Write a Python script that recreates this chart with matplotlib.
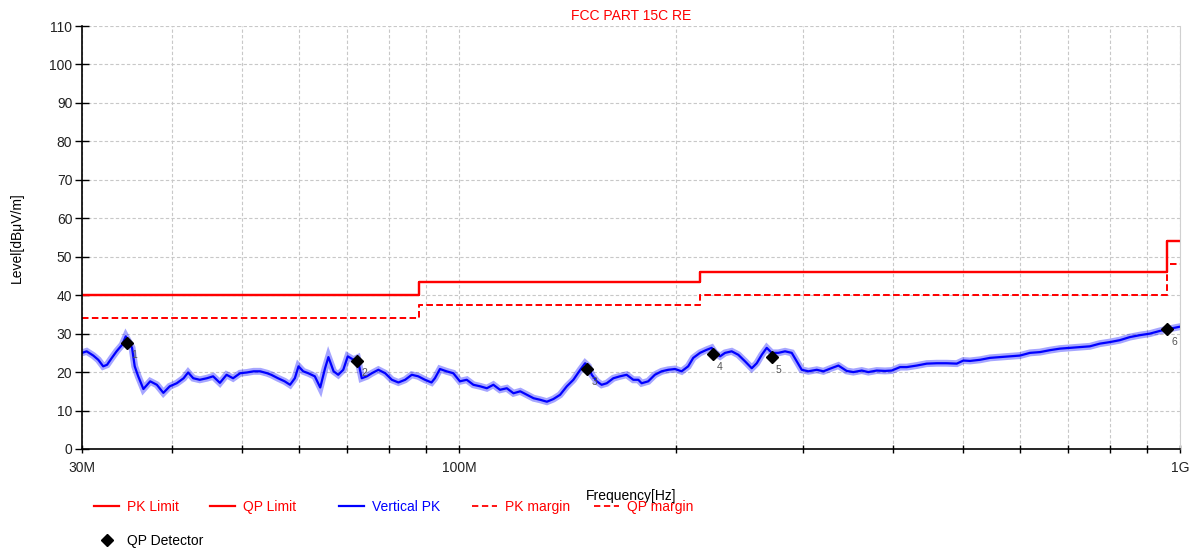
import matplotlib.pyplot as plt
from matplotlib.ticker import FixedLocator, NullFormatter

plt.rcParams['font.family'] = ['Liberation Sans', 'DejaVu Sans']

# limit lines (MHz edges, dBuV/m)
limit_edges = [30, 88, 216, 960, 1000]
pk_limit = [40, 43.5, 46, 54, 54]
qp_limit = [40, 43.5, 46, 54, 54]
pk_margin = [34, 37.5, 40, 48, 48]
qp_margin = [34, 37.5, 40, 48, 48]

# vertical peak scan
trace_mhz = [
    30.0, 30.45, 31.1, 31.6, 32.1, 32.5, 33.0, 33.5, 34.1, 34.5, 34.8, 35.2,
    35.5, 35.9, 36.5, 37.3, 38.1, 38.9, 39.7, 40.6, 41.5, 42.1, 42.8, 43.7,
    44.7, 45.6, 46.6, 47.6, 48.6, 49.7, 50.8, 51.9, 53.0, 54.2, 54.9, 56.1,
    57.3, 58.3, 59.2, 59.9, 60.8, 61.8, 63.1, 64.2, 65.2, 65.9, 67.0, 68.0,
    69.1, 70.1, 71.4, 72.3, 73.3, 74.5, 75.7, 77.3, 79.0, 80.7, 82.4, 84.2,
    86.0, 87.8, 89.7, 91.6, 92.6, 94.1, 96.1, 98.2, 100.3, 102.5, 104.7,
    107.0, 109.3, 111.6, 114.0, 116.5, 119.0, 121.6, 124.2, 126.9, 129.6,
    132.4, 135.2, 138.1, 141.1, 144.1, 147.3, 149.6, 151.2, 152.8, 155.3,
    157.7, 160.3, 163.7, 167.2, 170.8, 174.5, 177.3, 179.2, 183.0, 186.9,
    191.0, 195.1, 199.3, 203.6, 207.9, 211.3, 215.9, 220.6, 224.1, 226.5,
    230.2, 233.9, 238.9, 244.0, 249.3, 254.7, 258.8, 263.0, 267.2, 271.5,
    277.3, 283.3, 289.4, 294.1, 298.8, 305.2, 313.5, 320.2, 327.2, 335.9,
    344.9, 352.3, 361.9, 369.6, 379.6, 389.9, 398.3, 409.0, 417.9, 431.4,
    445.4, 459.8, 474.7, 490.2, 500.6, 511.5, 528.1, 545.3, 563.0, 581.1,
    599.9, 619.3, 639.4, 660.1, 681.5, 703.5, 726.3, 749.9, 774.2, 799.3,
    825.2, 851.9, 879.6, 908.1, 937.5, 957.8, 988.9, 1000.0,
]
trace_dbuv = [
    25.0, 25.4, 24.3, 23.2, 21.5, 21.9, 23.7, 25.4, 27.1, 29.3, 28.0, 26.3,
    21.5, 18.9, 15.6, 17.6, 16.7, 14.6, 16.3, 17.1, 18.4, 19.9, 18.4, 18.0,
    18.4, 18.9, 17.2, 19.3, 18.4, 19.7, 19.9, 20.2, 20.2, 19.7, 19.3, 18.4,
    17.6, 16.7, 18.4, 21.5, 20.2, 19.7, 18.9, 16.0, 21.0, 23.9, 20.2, 19.3,
    20.6, 24.1, 23.2, 23.7, 18.4, 18.9, 19.7, 20.6, 19.7, 18.0, 17.3, 18.0,
    19.3, 18.9, 18.0, 17.3, 18.4, 20.8, 20.2, 19.7, 17.6, 18.0, 16.7,
    16.3, 15.8, 16.7, 15.4, 15.8, 14.5, 15.0, 14.1, 13.2, 12.8,
    12.3, 13.0, 14.1, 16.3, 18.0, 20.6, 22.3, 21.5, 19.3, 17.6,
    16.7, 17.1, 18.4, 18.9, 19.3, 18.0, 18.0, 17.1, 17.6, 19.3,
    20.2, 20.6, 20.8, 20.2, 21.5, 23.7, 25.0, 25.8, 26.3, 25.0,
    24.1, 25.0, 25.4, 24.5, 22.8, 21.0, 22.3, 24.5, 26.3, 25.0,
    25.0, 25.4, 25.0, 22.8, 20.6, 20.2, 20.6, 20.2, 20.9, 21.7,
    20.3, 20.0, 20.4, 20.0, 20.4, 20.3, 20.4, 21.3, 21.3, 21.7,
    22.2, 22.3, 22.3, 22.2, 23.0, 22.9, 23.2, 23.7, 23.9, 24.1,
    24.3, 25.0, 25.2, 25.7, 26.1, 26.3, 26.5, 26.7, 27.4, 27.8,
    28.3, 29.1, 29.6, 30.0, 30.7, 31.1, 31.6, 31.8,
]

# QP detector points
qp_mhz = [34.6, 72.2, 150.5, 225.0, 271.6, 959.0]
qp_dbuv = [27.6, 22.9, 20.8, 24.7, 23.9, 31.2]
qp_labels = ['1', '2', '3', '4', '5', '6']

fig = plt.figure(figsize=(11.93, 5.49), dpi=100)
ax = fig.add_axes([82 / 1193, 1 - 449 / 549, 1098 / 1193, 423 / 549])

pk_line, = ax.step(limit_edges, pk_limit, where='post', color='#ff0000', lw=1.6, label='PK Limit')
qp_line, = ax.step(limit_edges, qp_limit, where='post', color='#ff0000', lw=1.6, label='QP Limit')
# wide faint pass gives the scan its noisy band look
ax.plot(trace_mhz, trace_dbuv, color='#0000ff', lw=5, alpha=0.35, solid_joinstyle='miter')
vpk_line, = ax.plot(trace_mhz, trace_dbuv, color='#0000ff', lw=1.6, label='Vertical PK')
pkm_line, = ax.step(limit_edges, pk_margin, where='post', color='#ff0000', lw=1.3,
                    dashes=(3.5, 2), label='PK margin')
qpm_line, = ax.step(limit_edges, qp_margin, where='post', color='#ff0000', lw=1.3,
                    dashes=(3.5, 2), label='QP margin')
det_pts, = ax.plot(qp_mhz, qp_dbuv, 'D', color='black', ms=6, ls='none', label='QP Detector')
for f, v, t in zip(qp_mhz, qp_dbuv, qp_labels):
    ax.annotate(t, (f, v), xytext=(3, -9), textcoords='offset points',
                fontsize=7.5, color='#555555', va='center')

ax.set_xscale('log')
ax.set_xlim(30, 1000)
ax.set_ylim(0, 110)
ax.xaxis.set_major_locator(FixedLocator([30, 100, 1000]))
ax.set_xticklabels(['30M', '100M', '1G'])
ax.xaxis.set_minor_locator(FixedLocator([40, 50, 60, 70, 80, 90, 200, 300, 400,
                                         500, 600, 700, 800, 900]))
ax.xaxis.set_minor_formatter(NullFormatter())
ax.set_yticks(range(0, 111, 10))

ax.tick_params(axis='y', direction='inout', length=10, width=1, labelsize=10,
               labelcolor='#222222', pad=2)
ax.tick_params(axis='x', which='both', direction='inout', length=6, width=1,
               labelsize=10, labelcolor='#222222', pad=6)

ax.grid(True, which='both', color='#c8c8c8', ls=(0, (3, 2)), lw=0.8)
ax.set_axisbelow(True)
ax.spines['top'].set_visible(False)
ax.spines['right'].set_color('#d0d0d0')
ax.spines['left'].set_linewidth(1.2)
ax.spines['bottom'].set_linewidth(1.2)

ax.set_title('FCC PART 15C RE', color='#ff0000', fontsize=10, pad=4)
ax.set_ylabel('Level[dBμV/m]', fontsize=10, labelpad=18)
ax.set_xlabel('Frequency[Hz]', fontsize=10, labelpad=10)

# one small legend per column, placed like the reference
leg_groups = [
    ([pk_line, det_pts], 94),
    ([qp_line], 210),
    ([vpk_line], 339),
    ([pkm_line], 472),
    ([qpm_line], 594),
]
for items, x0 in leg_groups:
    fig.legend(items, [h.get_label() for h in items], loc='upper left',
               bbox_to_anchor=(x0 / 1193, 1 - 500 / 549), frameon=False,
               fontsize=10, handlelength=1.8, handletextpad=0.6,
               labelspacing=1.45, borderpad=0, borderaxespad=0,
               labelcolor='linecolor')

fig.savefig('out.png', dpi=100)
